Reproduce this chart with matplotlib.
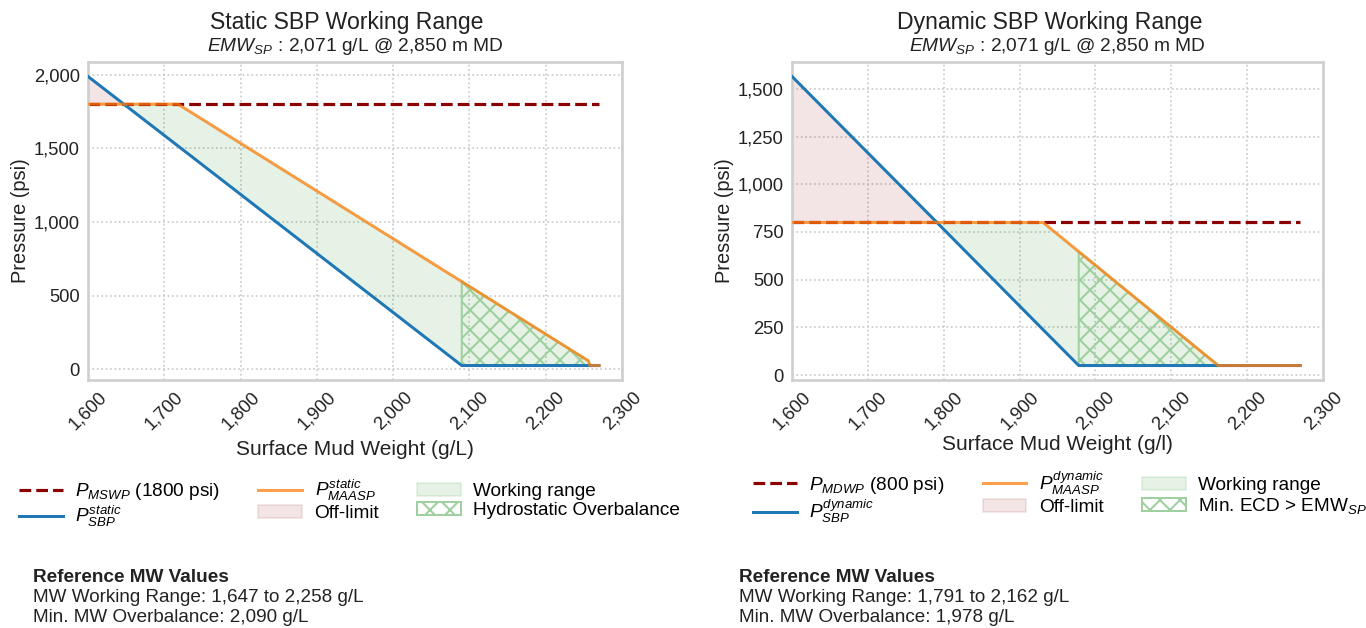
import matplotlib
matplotlib.use('Agg')
import matplotlib.pyplot as plt
from matplotlib.ticker import StrMethodFormatter, MultipleLocator
import numpy as np

# ---- data ----
mw_static = [1600, 1647, 1718, 2090, 2256, 2258, 2270]
sbp_static = [1988, 1800, 1516, 25, 25, 25, 25]
maasp_static = [1800, 1800, 1800, 595, 57, 25, 25]
mswp = 1800

mw_dynamic = [1600, 1791, 1931, 1978, 2162, 2270]
sbp_dynamic = [1565, 800, 238, 50, 50, 50]
maasp_dynamic = [800, 800, 800, 647, 50, 50]
mdwp = 800

emw_sp_txt = '2,071'
depth_md_txt = '2,850'
static_range = (1647, 2258)
static_overbalance = 2090
dynamic_range = (1791, 2162)
dynamic_overbalance = 1978

# ---- style ----
DPI = 120
plt.rcParams['font.family'] = ['Liberation Sans', 'DejaVu Sans']
plt.rcParams['mathtext.fontset'] = 'custom'
plt.rcParams['mathtext.rm'] = 'Liberation Sans'
plt.rcParams['mathtext.it'] = 'Liberation Sans:italic'
plt.rcParams['mathtext.bf'] = 'Liberation Sans:bold'
plt.rcParams['hatch.linewidth'] = 1.2

c_blue = '#1f77b4'
c_orange = '#ff7f0e'
c_red = '#8b0000'
c_hatch = '#9fd09f'
c_text = '#222222'

fig = plt.figure(figsize=(1366 / DPI, 628 / DPI), dpi=DPI)
ax1 = fig.add_axes([0.0644, 0.3949, 0.3909, 0.5064])
ax2 = fig.add_axes([0.5798, 0.3949, 0.3887, 0.5064])


def draw_panel(ax, mw, sbp, maasp, limit, overbal, kind, limit_name, xlab,
               hatch_label, leg_x, leg_y, xpad):
    mw = np.array(mw)
    sbp = np.array(sbp)
    maasp = np.array(maasp)
    lim = np.full_like(mw, limit, dtype=float)

    mswp_line, = ax.plot(mw, lim, '--', color=c_red, lw=1.9, zorder=2.5,
                         label=r'$P_{%s}$ (%d psi)' % (limit_name, limit))
    sbp_line, = ax.plot(mw, sbp, color=c_blue, lw=1.8, zorder=3,
                        label=r'$P^{%s}_{SBP}$' % kind)
    maasp_line, = ax.plot(mw, maasp, color=c_orange, alpha=0.75, lw=1.8, zorder=3.5,
                          label=r'$P^{%s}_{MAASP}$' % kind)
    off = ax.fill_between(mw, lim, sbp, where=sbp >= lim, interpolate=True,
                          color='darkred', alpha=0.1, label='Off-limit', zorder=1)
    work = ax.fill_between(mw, sbp, maasp, where=maasp >= sbp, interpolate=True,
                           color='green', alpha=0.1, label='Working range', zorder=1)
    hatch = ax.fill_between(mw, sbp, maasp, where=mw >= overbal,
                            facecolor='none', edgecolor=c_hatch, hatch='xx', lw=1.2,
                            label=hatch_label, zorder=2)

    ax.set_xlim(1600, 2300)
    ax.xaxis.set_major_locator(MultipleLocator(100))
    ax.xaxis.set_major_formatter(StrMethodFormatter('{x:,.0f}'))
    ax.yaxis.set_major_formatter(StrMethodFormatter('{x:,.0f}'))
    ax.tick_params(axis='both', length=0, labelsize=11, pad=5, colors=c_text)
    for lab in ax.get_xticklabels():
        lab.set_rotation(45)
    ax.grid(True, ls=':', color='#c8c8c8', lw=1.0)
    ax.set_axisbelow(True)
    for sp in ax.spines.values():
        sp.set_color('#cfcfcf')
        sp.set_linewidth(1.6)
    ax.set_xlabel(xlab, fontsize=12.5, color=c_text, labelpad=xpad)
    ax.set_ylabel('Pressure (psi)', fontsize=12, color=c_text, labelpad=2)

    handles = [mswp_line, sbp_line, maasp_line, off, work, hatch]
    ax.legend(handles=handles, loc='upper center', bbox_to_anchor=(leg_x, leg_y),
              ncol=3, frameon=False, fontsize=11.4, handlelength=2.3,
              handletextpad=0.65, columnspacing=2.0, labelspacing=0.1)


draw_panel(ax1, mw_static, sbp_static, maasp_static, mswp, static_overbalance,
           'static', 'MSWP', 'Surface Mud Weight (g/L)', 'Hydrostatic Overbalance',
           0.49, -0.255, 4)
draw_panel(ax2, mw_dynamic, sbp_dynamic, maasp_dynamic, mdwp, dynamic_overbalance,
           'dynamic', 'MDWP', 'Surface Mud Weight (g/l)', r'Min. ECD > EMW$_{SP}$',
           0.505, -0.228, 1.5)
ax1.yaxis.set_major_locator(MultipleLocator(500))
ax2.yaxis.set_major_locator(MultipleLocator(250))

subtitle = r'$EMW_{SP}$ : %s g/L @ %s m MD' % (emw_sp_txt, depth_md_txt)
for ax, title in [(ax1, 'Static SBP Working Range'), (ax2, 'Dynamic SBP Working Range')]:
    ax.text(0.485, 1.125, title, transform=ax.transAxes, ha='center', va='center',
            fontsize=13.8, color=c_text)
    ax.text(0.5, 1.05, subtitle, transform=ax.transAxes, ha='center', va='center',
            fontsize=11.5, color=c_text)

for x0, rng, ob in [(0.024, static_range, static_overbalance),
                    (0.541, dynamic_range, dynamic_overbalance)]:
    fig.text(x0, 1 - 577 / 628, 'Reference MW Values', fontsize=11.4,
             fontweight='bold', va='center', color=c_text)
    fig.text(x0, 1 - 598 / 628, 'MW Working Range: {:,} to {:,} g/L'.format(*rng),
             fontsize=11.3, va='center', color=c_text)
    fig.text(x0, 1 - 617 / 628, 'Min. MW Overbalance: {:,} g/L'.format(ob),
             fontsize=11.3, va='center', color=c_text)

fig.savefig('out.png', dpi=DPI)
